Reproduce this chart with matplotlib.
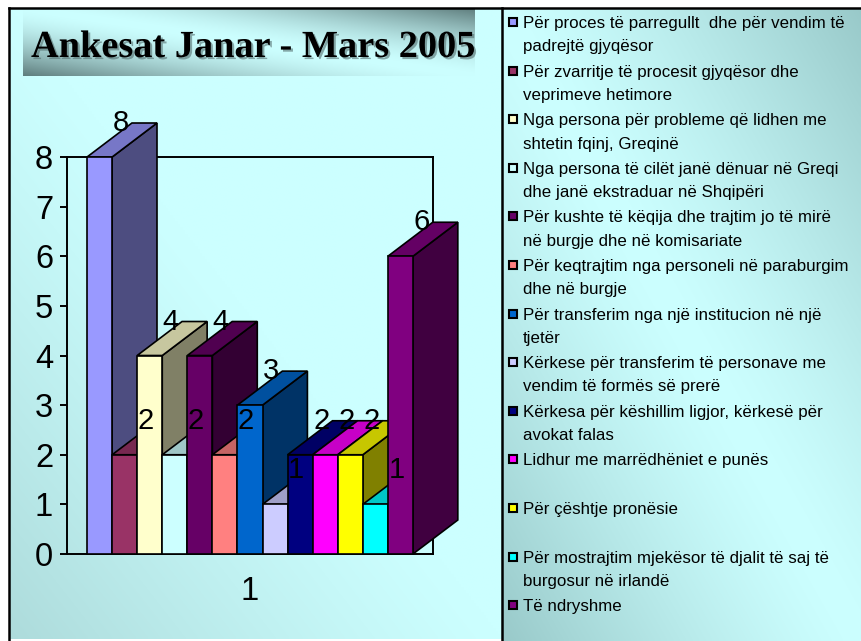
import numpy as np
import matplotlib
matplotlib.use("Agg")
import matplotlib.pyplot as plt
from matplotlib.patches import Rectangle, Polygon
import matplotlib.patheffects as pe

# Data
title = "Ankesat Janar - Mars 2005"
categories = [
    "Për proces të parregullt  dhe për vendim të\npadrejtë gjyqësor",
    "Për zvarritje të procesit gjyqësor dhe\nveprimeve hetimore",
    "Nga persona për probleme që lidhen me\nshtetin fqinj, Greqinë",
    "Nga persona të cilët janë dënuar në Greqi\ndhe janë ekstraduar në Shqipëri",
    "Për kushte të këqija dhe trajtim jo të mirë\nnë burgje dhe në komisariate",
    "Për keqtrajtim nga personeli në paraburgim\ndhe në burgje",
    "Për transferim nga një institucion në një\ntjetër",
    "Kërkese për transferim të personave me\nvendim të formës së prerë",
    "Kërkesa për këshillim ligjor, kërkesë për\navokat falas",
    "Lidhur me marrëdhëniet e punës",
    "Për çështje pronësie",
    "Për mostrajtim mjekësor të djalit të saj të\nburgosur në irlandë",
    "Të ndryshme",
]
values = [8, 2, 4, 2, 4, 2, 3, 1, 2, 2, 2, 1, 6]
colors = ["#9999FF", "#993366", "#FFFFCC", "#CCFFFF", "#660066", "#FF8080",
          "#0066CC", "#CCCCFF", "#000080", "#FF00FF", "#FFFF00", "#00FFFF",
          "#800080"]
yticks = [0, 1, 2, 3, 4, 5, 6, 7, 8]
xlabel_cat = "1"

W, H = 861, 641
SANS = "Liberation Sans"
LIGHT = np.array([0.80, 1.0, 1.0])


def shade(c, f):
    rgb = np.array(matplotlib.colors.to_rgb(c))
    return tuple(rgb * f)


def gradient(ax, x0, y0, x1, y1, dark, mode="diag", power=1.0, n=200):
    """Two-colour diagonal fill like the office 'diagonal down' shading."""
    u = np.linspace(0, 1, n)[None, :]
    v = np.linspace(0, 1, n)[:, None]
    if mode == "diag":
        t = np.abs(u - v)
    else:
        t = np.clip(v - u, 0, 1)
    t = t ** power
    img = LIGHT[None, None, :] * (1 - t[..., None]) + np.array(dark)[None, None, :] * t[..., None]
    ax.imshow(img, extent=(x0, x1, y1, y0), aspect="auto", interpolation="bilinear", zorder=0)


fig = plt.figure(figsize=(W / 100, H / 100), dpi=100)
fig.patch.set_facecolor("white")

# background panels in pixel coordinates
bg = fig.add_axes([0, 0, 1, 1], zorder=-1)
bg.set_xlim(0, W)
bg.set_ylim(H, 0)
bg.axis("off")
gradient(bg, 9, 8, 502, 639, (0.68, 0.86, 0.86), mode="bl", power=1.2)
gradient(bg, 502, 8, W, H, (0.60, 0.79, 0.79), mode="diag", power=1.3)
gradient(bg, 23, 8, 475, 76, (0.37, 0.49, 0.49), mode="diag", power=1.6)
bg.plot([9, 9], [8, H], color="black", lw=1.8, zorder=2)
bg.plot([9, W], [8, 8], color="black", lw=1.8, zorder=2)
bg.plot([502, 502], [8, H], color="black", lw=1.8, zorder=2)

bg.text(31, 57, title, family="Liberation Serif", weight="bold", fontsize=27.6,
        ha="left", va="baseline", color="black", zorder=3,
        path_effects=[pe.withSimplePatchShadow(offset=(1.5, -1.5), shadow_rgbFace="#557070", alpha=0.6)])

# legend
ys = 22 + 48.6 * np.arange(len(categories))
for lab, col, y in zip(categories, colors, ys):
    bg.add_patch(Rectangle((509, y - 4), 8, 8, fc=col, ec="black", lw=1.5, zorder=3))
    for k, line in enumerate(lab.split("\n")):
        bg.text(523, y + 6 + k * 23.3, line, family=SANS, fontsize=12.2,
                ha="left", va="baseline", color="black", zorder=3)

# main 3-D column chart
ax = fig.add_axes([67 / W, 1 - 554 / H, (433 - 67) / W, (554 - 157) / H])
ax.set_facecolor("none")
ax.set_xlim(-0.8, 13.8)
ax.set_ylim(0, 8)
ddx, ddy = 1.79, 0.685
for sp in ax.spines.values():
    sp.set_linewidth(1.4)
    sp.set_color("black")
    sp.set_zorder(1)

for i, (v, c) in enumerate(zip(values, colors)):
    side = Polygon([(i + 1, 0), (i + 1 + ddx, ddy), (i + 1 + ddx, v + ddy), (i + 1, v)],
                   closed=True, fc=shade(c, 0.5), ec="black", lw=1.2, clip_on=False, zorder=3)
    top = Polygon([(i, v), (i + 1, v), (i + 1 + ddx, v + ddy), (i + ddx, v + ddy)],
                  closed=True, fc=shade(c, 0.78), ec="black", lw=1.2, clip_on=False, zorder=3)
    front = Rectangle((i, 0), 1, v, fc=c, ec="black", lw=1.2, clip_on=False, zorder=3)
    ax.add_patch(side)
    ax.add_patch(top)
    ax.add_patch(front)

for i, v in enumerate(values):
    ax.text(i + 0.5 + 0.84, v + ddy, str(v), family=SANS, fontsize=21,
            ha="center", va="center", color="black", zorder=10)

ax.set_yticks(yticks)
ax.set_yticklabels([str(t) for t in yticks], family=SANS, fontsize=23.5)
ax.tick_params(axis="y", direction="out", length=5, width=1.4, pad=5)
ax.set_xticks([6.5])
ax.set_xticklabels([xlabel_cat], family=SANS, fontsize=23.5)
ax.tick_params(axis="x", length=0, pad=16)

fig.savefig("out.png", dpi=100)
